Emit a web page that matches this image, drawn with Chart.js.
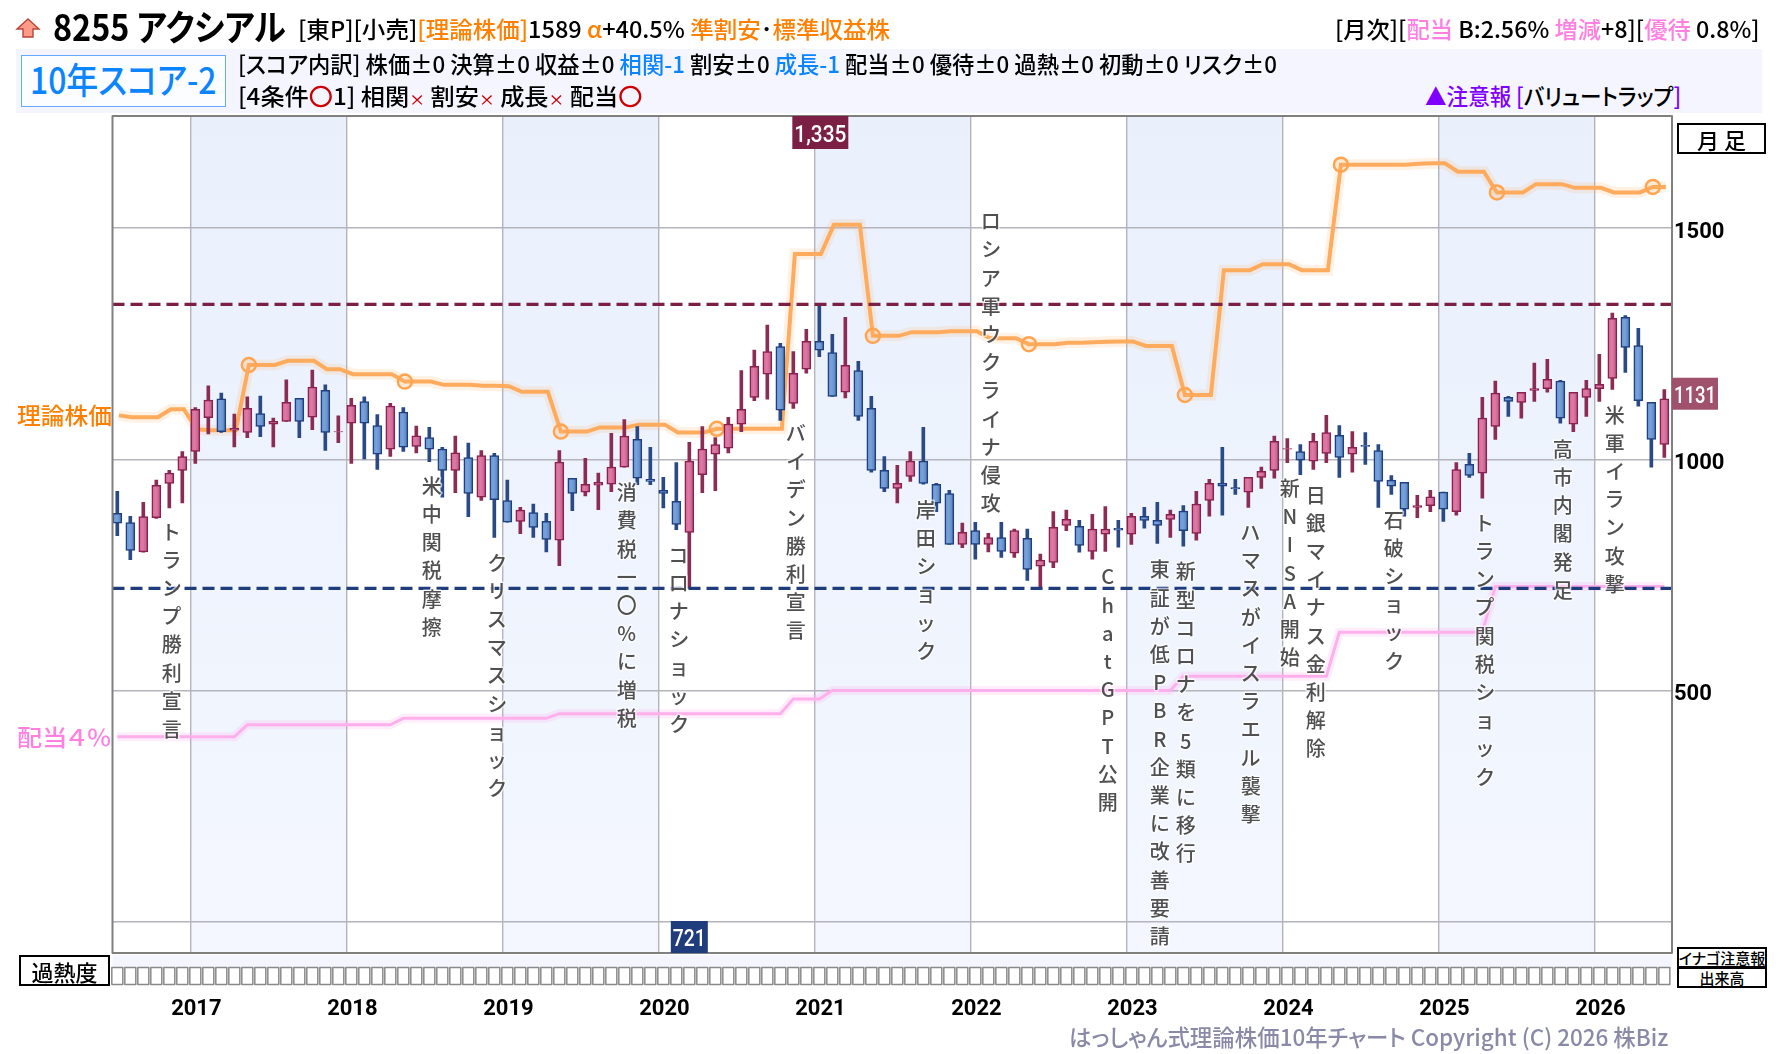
<!DOCTYPE html>
<html lang="ja">
<head>
<meta charset="utf-8">
<title>8255 アクシアル</title>
<script src="https://cdn.jsdelivr.net/npm/chart.js@4"></script>
<style>
html, body { margin: 0; padding: 0; background: #fff; }
#page { position: relative; width: 1780px; height: 1054px; overflow: hidden;
  font-family: "Noto Sans CJK JP", "Noto Sans", sans-serif; color: #000; font-feature-settings: "palt"; }
#chartBox { position: absolute; left: 0; top: 0; width: 1780px; height: 1054px; }
.panel { position: absolute; left: 16px; top: 49px; width: 1746px; height: 64px; background: #f5f5ff; }
.scoreBox { position: absolute; left: 21px; top: 55px; width: 205px; height: 52px;
  background: #fbfdff; border: 1px solid #66aaff; box-sizing: border-box; }
.tag { position: absolute; background: #fff; border: 2px solid #000; box-sizing: border-box;
  display: flex; align-items: center; justify-content: center; font-weight: 500; white-space: nowrap; }
.line { position: absolute; white-space: pre; transform-origin: left center; line-height: 1; font-weight: 500; }
.or { color: #ff8000; } .pk { color: #ff80e0; } .bl { color: #0a84ff; }
.rd { color: #cc0000; } .pu { color: #8000ff; }
.small { font-size: 15px; }
</style>
</head>
<body>
<div id="page">
  <div id="chartBox"><canvas id="myChart"></canvas></div>

  <svg style="position:absolute;left:15px;top:17px" width="26" height="22">
    <polygon points="13,2 24,12 18,12 18,20 8,20 8,12 2,12" fill="#ff9a88" stroke="#b8443a" stroke-width="1.4"/>
  </svg>
  <div class="line" data-x="53" data-y="25" data-w="233" style="font-size:36px;font-weight:600">8255 アクシアル</div>
  <div class="line" data-x="298" data-y="28" data-w="592" style="font-size:23px">[東P][小売]<span class="or">[理論株価]</span>1589 <span class="or">α</span>+40.5% <span class="or">準割安</span>･<span class="or">標準収益株</span></div>
  <div class="line" data-x="1335" data-y="28" data-w="425" style="font-size:23px">[月次][<span class="pk">配当</span> B:2.56% <span class="pk">増減</span>+8][<span class="pk">優待</span> 0.8%]</div>

  <div class="panel"></div>
  <div class="scoreBox"></div>
  <div class="line bl" data-x="30" data-y="78" data-w="187" style="font-size:36px">10年スコア-2</div>
  <div class="line" data-x="238" data-y="63" data-w="1039" style="font-size:23px">[スコア内訳] 株価±0 決算±0 収益±0 <span class="bl">相関-1</span> 割安±0 <span class="bl">成長-1</span> 配当±0 優待±0 過熱±0 初動±0 リスク±0</div>
  <div class="line" data-x="238" data-y="95" data-w="404" style="font-size:23px">[4条件<span class="rd">〇</span>1] 相関<span class="rd small">×</span> 割安<span class="rd small">×</span> 成長<span class="rd small">×</span> 配当<span class="rd">〇</span></div>
  <div class="line" data-x="1425" data-y="95" data-w="256" style="font-size:23px"><span class="pu">▲注意報 [</span>バリュートラップ<span class="pu">]</span></div>

  <div class="line or" data-x="17" data-y="414" data-w="95" style="font-size:23px">理論株価</div>
  <div class="line pk" data-x="17" data-y="736" data-w="94" style="font-size:23px">配当４％</div>

  <div class="tag" style="left:1677px;top:123px;width:89px;height:31px;font-size:22px">月 足</div>
  <div class="tag" style="left:19px;top:955px;width:91px;height:31px;font-size:22px">過熱度</div>
  <div class="tag" style="left:1677px;top:947px;width:90px;height:21px;font-size:15px">イナゴ注意報</div>
  <div class="tag" style="left:1677px;top:967px;width:90px;height:21px;font-size:15px">出来高</div>

  <div class="line" data-x="1069" data-y="1036" data-w="599" style="font-size:23px;color:#8a8aa8">はっしゃん式理論株価10年チャート Copyright (C) 2026 株Biz</div>
</div>

<script>
// 月足 2016/07 - 2026/06
var opens = [883, 863, 800, 874, 948, 976, 1017, 1090, 1131, 1063, 1058, 1099, 1076, 1082, 1132, 1091, 1149, 1059, 1078, 1125,
    1073, 1022, 1102, 1028, 1047, 1022, 976, 1004, 918, 1008, 911, 866, 885, 866, 825, 959, 929, 944, 946, 983,
    1043, 957, 933, 909, 842, 967, 1011, 1024, 1076, 1134, 1184, 1244, 1121, 1195, 1255, 1231, 1145, 1192, 1110, 976,
    937, 963, 996, 946, 926, 816, 846, 816, 831, 797, 829, 769, 777, 857, 855, 801, 838, 851, 838, 877,
    868, 870, 888, 840, 911, 948, 939, 929, 961, 976, 1022, 1017, 996, 1013, 1052, 1011, 1030, 1019, 955, 950,
    896, 900, 929, 887, 989, 970, 1071, 1134, 1123, 1149, 1153, 1169, 1076, 1134, 1153, 1175, 1307, 1246, 1123, 1032];
var highs = [931, 877, 907, 955, 976, 1017, 1112, 1159, 1143, 1098, 1135, 1137, 1089, 1172, 1132, 1193, 1161, 1094, 1132, 1135,
    1097, 1121, 1112, 1072, 1069, 1026, 1050, 1035, 1019, 1013, 955, 896, 903, 883, 1019, 959, 1002, 970, 1056, 1086,
    1071, 1026, 961, 993, 1037, 1071, 1047, 1091, 1192, 1236, 1290, 1251, 1233, 1281, 1335, 1270, 1307, 1212, 1136, 1006,
    987, 1017, 1069, 948, 933, 862, 864, 840, 864, 849, 849, 795, 887, 890, 868, 881, 898, 868, 883, 896,
    907, 890, 900, 931, 957, 1026, 957, 961, 983, 1050, 1045, 1032, 1056, 1095, 1073, 1060, 1058, 1032, 965, 950,
    922, 933, 929, 993, 1013, 1134, 1169, 1136, 1145, 1208, 1216, 1171, 1145, 1171, 1227, 1316, 1311, 1283, 1123, 1151];
var lows = [835, 783, 799, 872, 895, 906, 991, 1055, 1058, 1027, 1047, 1049, 1027, 1082, 1047, 1064, 1019, 1036, 991, 1001,
    978, 1006, 1017, 1014, 995, 918, 928, 876, 911, 831, 864, 839, 831, 800, 770, 889, 921, 891, 930, 983,
    945, 945, 895, 848, 721, 928, 932, 1014, 1060, 1127, 1130, 1084, 1110, 1186, 1222, 1136, 1133, 1084, 972, 930,
    906, 952, 946, 887, 816, 809, 784, 800, 788, 788, 738, 721, 766, 846, 799, 784, 801, 810, 816, 851,
    818, 831, 812, 825, 877, 879, 924, 896, 937, 959, 993, 967, 978, 993, 961, 972, 989, 896, 924, 877,
    874, 887, 866, 879, 961, 916, 1043, 1093, 1089, 1125, 1145, 1078, 1060, 1093, 1125, 1151, 1188, 1115, 983, 1004];
var closes = [862, 803, 876, 944, 970, 1006, 1108, 1128, 1060, 1067, 1110, 1071, 1082, 1123, 1082, 1156, 1058, 1060, 1117, 1078,
    1011, 1115, 1026, 1051, 1022, 976, 1014, 926, 1008, 913, 864, 890, 853, 827, 994, 926, 946, 950, 983, 1050,
    959, 952, 926, 859, 996, 1022, 1032, 1076, 1108, 1201, 1233, 1106, 1186, 1255, 1236, 1136, 1203, 1093, 976, 937,
    948, 996, 948, 905, 816, 842, 816, 831, 801, 846, 762, 782, 853, 870, 814, 849, 849, 847, 877, 868,
    857, 881, 846, 903, 948, 942, 936, 961, 974, 1039, 1023, 998, 1039, 1058, 1004, 1026, 1028, 952, 942, 892,
    900, 919, 892, 978, 965, 1089, 1143, 1125, 1145, 1153, 1173, 1089, 1145, 1153, 1162, 1305, 1242, 1127, 1043, 1131];

var theoryPrice = [1095, 1091, 1091, 1091, 1108, 1108, 1065, 1063, 1063, 1063, 1204, 1204, 1204, 1213, 1213, 1213, 1195, 1195, 1184, 1184,
    1184, 1184, 1168, 1168, 1168, 1161, 1161, 1161, 1159, 1159, 1158, 1146, 1146, 1146, 1060, 1060, 1060, 1069, 1069, 1069,
    1075, 1075, 1075, 1058, 1058, 1058, 1066, 1066, 1066, 1066, 1066, 1066, 1444, 1444, 1444, 1507, 1507, 1507, 1267, 1267,
    1267, 1275, 1275, 1275, 1277, 1277, 1277, 1262, 1262, 1262, 1249, 1249, 1249, 1252, 1252, 1253, 1254, 1255, 1255, 1245,
    1245, 1245, 1139, 1139, 1139, 1409, 1409, 1409, 1422, 1422, 1422, 1409, 1409, 1409, 1637, 1637, 1637, 1637, 1637, 1637,
    1639, 1640, 1640, 1622, 1622, 1622, 1577, 1577, 1577, 1595, 1595, 1595, 1587, 1587, 1587, 1577, 1577, 1577, 1589, 1589];
var dividendLine = [400, 400, 400, 400, 400, 400, 400, 400, 400, 400, 426, 426, 426, 426, 426, 426, 426, 426, 426, 426,
    426, 426, 440, 440, 440, 440, 440, 440, 440, 440, 440, 440, 440, 440, 450, 450, 450, 450, 450, 450,
    450, 450, 450, 450, 450, 450, 450, 450, 450, 450, 450, 450, 482, 482, 482, 500, 500, 500, 500, 500,
    500, 500, 500, 500, 500, 500, 500, 500, 500, 500, 500, 500, 500, 500, 500, 500, 500, 500, 500, 500,
    500, 500, 531, 531, 531, 531, 531, 531, 531, 531, 531, 531, 531, 531, 626, 626, 626, 626, 626, 626,
    626, 626, 626, 626, 626, 626, 725, 725, 725, 725, 725, 725, 725, 725, 725, 725, 725, 725, 725, 725];

var yearLabels = ['2017', '2018', '2019', '2020', '2021', '2022', '2023', '2024', '2025', '2026'];
var yearStarts = [5.62, 17.62, 29.62, 41.62, 53.62, 65.62, 77.62, 89.62, 101.62, 113.62];
var priceTicks = [0, 500, 1000, 1500];

var eventLabels = ['トランプ勝利宣言', '米中関税摩擦', 'クリスマスショック', '消費税一〇%に増税', 'コロナショック', 'バイデン勝利宣言',
    '岸田ショック', 'ロシア軍ウクライナ侵攻', 'ChatGPT公開', '東証が低PBR企業に改善要請', '新型コロナを5類に移行',
    'ハマスがイスラエル襲撃', '新NISA開始', '日銀マイナス金利解除', '石破ショック', 'トランプ関税ショック', '高市内閣発足', '米軍イラン攻撃'];
var eventMonths = [4, 24, 29, 39, 43, 52, 62, 67, 76, 80, 82, 87, 90, 92, 98, 105, 111, 115];
var eventTops = [843, 942, 776, 928, 793, 1056, 890, 1514, 746, 761, 757, 842, 937, 923, 869, 862, 1022, 1096];

var maxHigh = Math.max.apply(null, highs);
var minLow = Math.min.apply(null, lows);
var lastClose = closes[closes.length - 1];

var fontJp = '"Noto Sans CJK JP", "Noto Sans", sans-serif';
var fontNum = 'Roboto, "Noto Sans", sans-serif';

// ヘッダーの文字列を指定幅に合わせて横方向に縮める
document.querySelectorAll('.line').forEach(function (el) {
    el.style.left = el.dataset.x + 'px';
    el.style.top = el.dataset.y + 'px';
    var k = el.dataset.w / el.offsetWidth;
    el.style.transform = 'translateY(-50%) scaleX(' + k + ')';
});

function series(values, shift) {
    return values.map(function (y, x) { return { x: x + (shift || 0), y: y }; });
}
function level(value) {
    return [{ x: -0.37, y: value }, { x: 119.59, y: value }];
}
function isUp(i) {
    return closes[i] >= opens[i];
}
function bodyFill(ctx) {
    var px = ctx.chart.scales.x.getPixelForValue(ctx.dataIndex);
    if (!isFinite(px)) return '#6591cf';
    var g = ctx.chart.ctx.createLinearGradient(px - 5, 0, px + 5, 0);
    if (isUp(ctx.dataIndex)) {
        g.addColorStop(0, '#d0628f');
        g.addColorStop(0.45, '#e07aa6');
        g.addColorStop(1, '#b5567e');
    } else {
        g.addColorStop(0, '#6591cf');
        g.addColorStop(0.45, '#78a2dc');
        g.addColorStop(1, '#4f78b2');
    }
    return g;
}

// 年ごとの背景色
var yearBands = {
    id: 'yearBands',
    beforeDraw: function (chart) {
        var c = chart.ctx, a = chart.chartArea, xs = chart.scales.x;
        var g = c.createLinearGradient(0, a.top, 0, a.bottom);
        g.addColorStop(0, '#e9f0fc');
        g.addColorStop(1, '#f4f7ff');
        c.save();
        c.fillStyle = g;
        for (var i = 0; i + 1 < yearStarts.length; i += 2) {
            var l = xs.getPixelForValue(yearStarts[i]);
            c.fillRect(l, a.top, xs.getPixelForValue(yearStarts[i + 1]) - l, a.bottom - a.top);
        }
        c.restore();
    }
};

// 出来事の縦書き、高値安値のラベル、枠、過熱度のマス
var overlays = {
    id: 'overlays',
    afterDatasetsDraw: function (chart) {
        var c = chart.ctx, a = chart.chartArea, xs = chart.scales.x, ys = chart.scales.y;
        c.save();
        c.font = '500 20px ' + fontJp;
        c.textAlign = 'center';
        c.textBaseline = 'middle';
        c.lineJoin = 'round';
        eventLabels.forEach(function (label, n) {
            var x = xs.getPixelForValue(eventMonths[n]) + 2.4;
            var y = ys.getPixelForValue(eventTops[n]);
            Array.from(label).forEach(function (ch, k) {
                c.lineWidth = 3;
                c.strokeStyle = 'rgba(255,255,255,0.65)';
                c.strokeText(ch, x, y + k * 28.2);
                c.fillStyle = '#505050';
                c.fillText(ch, x, y + k * 28.2);
            });
        });

        c.strokeStyle = '#808080';
        c.lineWidth = 2;
        c.strokeRect(a.left, a.top, a.right - a.left, a.bottom - a.top);

        function badge(text, cx, top, w, h, color) {
            c.fillStyle = color;
            c.fillRect(cx - w / 2, top, w, h);
            c.fillStyle = '#fff';
            c.font = '500 23px ' + fontNum;
            c.fillText(text, cx, top + h / 2 + 3.5, w - 4);
        }
        badge(maxHigh.toLocaleString('en-US'), xs.getPixelForValue(highs.indexOf(maxHigh)) + 1, a.top, 56, 33, '#7b1f45');
        badge(String(minLow), xs.getPixelForValue(lows.indexOf(minLow)), a.bottom - 32, 37, 32, '#1f3c7d');
        badge(String(lastClose), a.right + 23, ys.getPixelForValue(lastClose) - 21, 46, 32, '#a0516c');

        c.fillStyle = '#f5f5ff';
        c.fillRect(a.left, a.bottom + 2, a.right - a.left, 13);
        c.strokeStyle = '#8a8a8a';
        c.lineWidth = 1.5;
        opens.forEach(function (v, i) {
            c.strokeRect(xs.getPixelForValue(i) - 5.5, a.bottom + 14.5, 11, 17);
        });
        c.restore();
    }
};

Chart.defaults.font.family = fontNum;

var ctx = document.getElementById('myChart').getContext('2d');
var myChart = new Chart(ctx, {
    type: 'bar',
    plugins: [yearBands, overlays],
    data: {
        datasets: [
            { type: 'line', data: series(dividendLine), order: 9, borderColor: 'rgba(255,140,230,0.16)', borderWidth: 9, pointRadius: 0, tension: 0 },
            { type: 'line', data: series(dividendLine), order: 8, borderColor: '#ffb0ec', borderWidth: 3, pointRadius: 0, tension: 0 },
            { type: 'line', data: series(theoryPrice, 0.12), order: 7, borderColor: 'rgba(255,165,80,0.15)', borderWidth: 11, pointRadius: 0, tension: 0 },
            {
                type: 'line', data: series(theoryPrice, 0.12), order: 6, borderColor: '#ffab5e', borderWidth: 4, tension: 0,
                pointRadius: function (c) { return c.dataIndex % 12 === 10 ? 7 : 0; },
                pointBorderColor: '#ffa552', pointBorderWidth: 2.5, pointBackgroundColor: 'rgba(255,170,90,0.12)'
            },
            {
                data: opens.map(function (v, i) { return { x: i, y: [lows[i], highs[i]] }; }),
                order: 5, barThickness: 3, borderWidth: 0, grouped: false,
                backgroundColor: function (c) { return isUp(c.dataIndex) ? '#8b2c54' : '#2a4a85'; }
            },
            {
                data: opens.map(function (v, i) { return { x: i, y: [opens[i], closes[i]] }; }),
                order: 4, barThickness: 9, borderWidth: 1.5, borderSkipped: false, grouped: false,
                backgroundColor: bodyFill,
                borderColor: function (c) { return isUp(c.dataIndex) ? '#8b1f4f' : '#1f3f80'; }
            },
            { type: 'line', data: level(maxHigh), order: 2, borderColor: '#7b1f45', borderWidth: 3.4, borderDash: [12, 6], pointRadius: 0 },
            { type: 'line', data: level(minLow), order: 1, borderColor: '#1f3c7d', borderWidth: 3.4, borderDash: [12, 6], pointRadius: 0 }
        ]
    },
    options: {
        responsive: true,
        maintainAspectRatio: false,
        animation: false,
        events: [],
        layout: { padding: { left: 112.5, top: 116, right: 0, bottom: 0 } },
        plugins: { legend: { display: false }, tooltip: { enabled: false } },
        scales: {
            x: {
                type: 'linear',
                offset: false,
                min: -0.37,
                max: 119.59,
                afterBuildTicks: function (s) { s.ticks = yearStarts.map(function (v) { return { value: v }; }); },
                afterFit: function (s) { s.height = 101; },
                grid: { offset: false, color: '#b4b4bc', lineWidth: 1.4, drawTicks: false },
                border: { display: false },
                ticks: {
                    autoSkip: false,
                    maxRotation: 0,
                    padding: 43,
                    labelOffset: 6,
                    color: '#000',
                    font: { size: 22, weight: '700' },
                    callback: function (v, i) { return yearLabels[i]; }
                }
            },
            y: {
                position: 'right',
                min: -67.4,
                max: 1742.3,
                afterBuildTicks: function (s) { s.ticks = priceTicks.map(function (v) { return { value: v }; }); },
                afterFit: function (s) { s.width = 108; },
                grid: { color: '#b4b4bc', lineWidth: 1.4, drawTicks: false },
                border: { display: false },
                ticks: {
                    padding: 2,
                    labelOffset: 4,
                    color: '#000',
                    font: { size: 22, weight: '700' },
                    callback: function (v) { return v > 0 ? String(v) : ''; }
                }
            }
        }
    }
});
</script>
</body>
</html>
